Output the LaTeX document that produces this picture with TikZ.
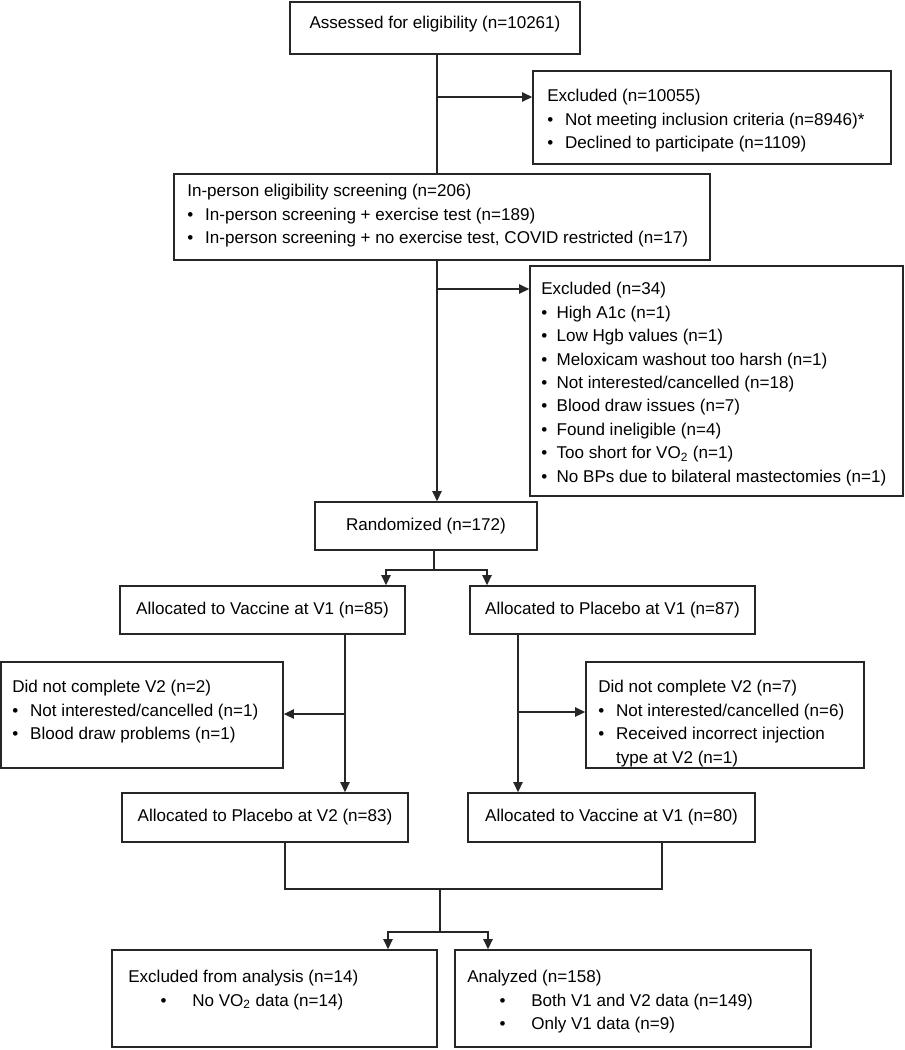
\documentclass[tikz,border=0pt]{standalone}
\usepackage{fontspec}
\setmainfont{Liberation Sans}
\usetikzlibrary{arrows.meta}
\begin{document}
\begin{tikzpicture}[x=0.75pt,y=-0.75pt,
  box/.style={draw=black!85,line width=1.3pt,rectangle,inner sep=0pt},
  txt/.style={anchor=north west,inner sep=0pt,align=left,font=\fontsize{12.8}{17.6}\selectfont},
  ctxt/.style={inner sep=0pt,font=\fontsize{12.8}{17.6}\selectfont},
  conn/.style={draw=black!85,line width=1.2pt},
  arr/.style={conn,-{Triangle[length=7.5pt,width=7pt]}}]
\useasboundingbox (0,0) rectangle (905,1050);
\newcommand{\bx}[5]{\node[box,minimum width={(#4-#2)*0.75pt},minimum height={(#5-#3)*0.75pt}] (#1) at ({(#2+#4)/2},{(#3+#5)/2}) {};}
\newcommand{\bul}{\textbullet\hspace{0.7em}}
\newcommand{\sbul}{\textbullet\hspace{0.55em}}
\newcommand{\ibul}{\hspace{1.9em}\textbullet\hspace{1.5em}}
% boxes
\bx{assess}{290}{2}{580}{54}
\bx{excl1}{533}{71}{891}{164}
\bx{inperson}{174}{174}{710}{260}
\bx{excl2}{530}{266}{903}{496}
\bx{rand}{315}{502}{537}{550}
\bx{vacc1}{120}{586}{405}{634}
\bx{plac1}{470}{586}{755}{634}
\bx{dncl}{1}{662}{283}{768}
\bx{dncr}{586}{662}{864}{768}
\bx{plac2}{122}{793}{408}{842}
\bx{vacc2}{468}{793}{755}{842}
\bx{exa}{112}{950}{437}{1047}
\bx{ana}{455}{950}{811}{1047}
% texts
\node[ctxt] (tassess) at (435,24) {Assessed for eligibility (n=10261)};
\node[txt] (texcl1) at (547,89) {Excluded (n=10055)\\\bul Not meeting inclusion criteria (n=8946)*\\\bul Declined to participate (n=1109)};
\node[txt] (tinp) at (187,184) {In-person eligibility screening (n=206)\\\bul In-person screening + exercise test (n=189)\\\bul In-person screening + no exercise test, COVID restricted (n=17)};
\node[txt] (texcl2) at (541,282) {Excluded (n=34)\\\sbul High A1c (n=1)\\\sbul Low Hgb values (n=1)\\\sbul Meloxicam washout too harsh (n=1)\\\sbul Not interested/cancelled (n=18)\\\sbul Blood draw issues (n=7)\\\sbul Found ineligible (n=4)\\\sbul Too short for VO\textsubscript{2} (n=1)\\\sbul No BPs due to bilateral mastectomies (n=1)};
\node[ctxt] (trand) at (426,526) {Randomized (n=172)};
\node[ctxt] (tvacc1) at (262.5,610) {Allocated to Vaccine at V1 (n=85)};
\node[ctxt] (tplac1) at (612.5,610) {Allocated to Placebo at V1 (n=87)};
\node[txt] (tdncl) at (12,680) {Did not complete V2 (n=2)\\\bul Not interested/cancelled (n=1)\\\bul Blood draw problems (n=1)};
\node[txt] (tdncr) at (598,680) {Did not complete V2 (n=7)\\\bul Not interested/cancelled (n=6)\\\bul Received incorrect injection\\\phantom{\bul}type at V2 (n=1)};
\node[ctxt] (tplac2) at (265,817.5) {Allocated to Placebo at V2 (n=83)};
\node[ctxt] (tvacc2) at (611.5,817.5) {Allocated to Vaccine at V1 (n=80)};
\node[txt] (texa) at (128,970) {Excluded from analysis (n=14)\\\ibul No VO\textsubscript{2} data (n=14)};
\node[txt] (tana) at (467,970) {Analyzed (n=158)\\\ibul Both V1 and V2 data (n=149)\\\ibul Only V1 data (n=9)};
% connectors
\coordinate (j1) at (437,97);
\coordinate (j2) at (437,289);
\draw[conn] (assess.south -| j1) -- (inperson.north -| j1);
\draw[arr] (j1) -- (excl1.west |- j1);
\draw[arr] (inperson.south -| j2) -- (rand.north -| j2);
\draw[arr] (j2) -- (excl2.west |- j2);
\coordinate (r0) at (434,570);
\coordinate (rl) at (386,570);
\coordinate (rr) at (487,570);
\draw[conn] (rand.south -| r0) -- (r0);
\draw[arr] (r0) -- (rl) -- (vacc1.north -| rl);
\draw[arr] (r0) -- (rr) -- (plac1.north -| rr);
\coordinate (vl) at (345,714);
\coordinate (vr) at (518,712);
\draw[arr] (vacc1.south -| vl) -- (plac2.north -| vl);
\draw[arr] (vl) -- (dncl.east |- vl);
\draw[arr] (plac1.south -| vr) -- (vacc2.north -| vr);
\draw[arr] (vr) -- (dncr.west |- vr);
\coordinate (bl) at (285,889);
\coordinate (br) at (662,889);
\coordinate (bm) at (440,889);
\coordinate (cm) at (440,932);
\coordinate (cl) at (388,932);
\coordinate (cr) at (488,932);
\draw[conn] (plac2.south -| bl) -- (bl) -- (br) -- (vacc2.south -| br);
\draw[conn] (bm) -- (cm);
\draw[arr] (cm) -- (cl) -- (exa.north -| cl);
\draw[arr] (cm) -- (cr) -- (ana.north -| cr);
\end{tikzpicture}
\end{document}
